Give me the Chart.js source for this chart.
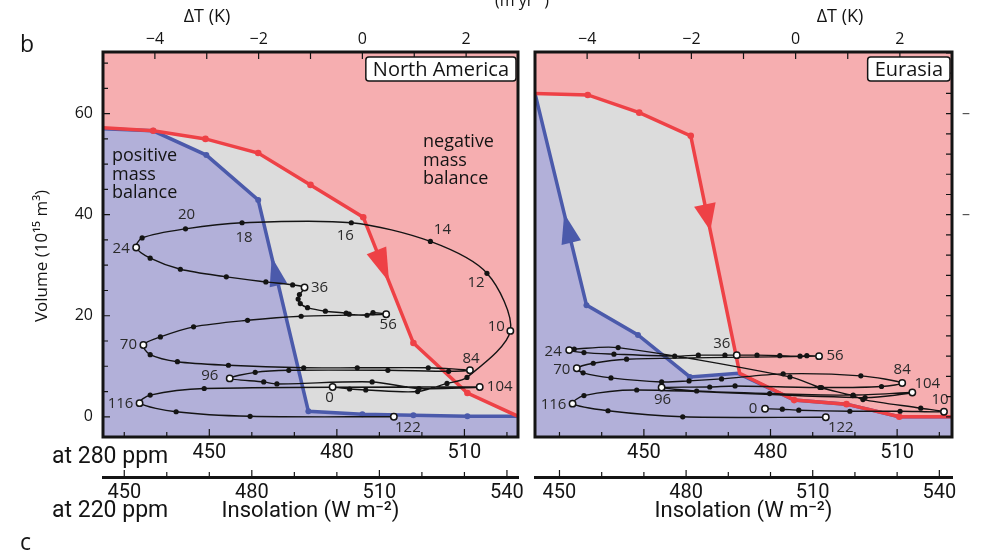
<!DOCTYPE html>
<html>
<head>
<meta charset="utf-8">
<script src="https://cdn.jsdelivr.net/npm/chart.js@4.4.1/dist/chart.umd.min.js"></script>
<style>
  html, body { margin: 0; padding: 0; background: #fff; }
  #wrap { position: relative; width: 982px; height: 554px; overflow: hidden; }
  #wrap canvas { position: absolute; left: 0; top: 0; }
</style>
</head>
<body>
<div id="wrap">
  <canvas id="na" width="982" height="554"></canvas>
  <canvas id="eu" width="982" height="554"></canvas>
</div>
<script>
// Ice volume (10^15 m3) vs summer insolation (W m-2 at 280 ppm)

// tick values
const ins280Ticks = [450, 480, 510];
const ins220Ticks = [450, 480, 510, 540];
const dTTicks = [-4, -2, 0, 2];
const volTicks = [0, 20, 40, 60];
const openAges = [0, 10, 24, 36, 56, 70, 84, 96, 104, 116, 122];

// North America: threshold curves
const naRedX = [425.0, 436.8, 449.1, 461.5, 473.8, 486.2, 498.0, 510.7, 522.6];
const naRedY = [57.2, 56.6, 55.0, 52.2, 45.9, 39.5, 14.6, 4.7, 0.1];
const naBlueX = [425.0, 436.8, 449.3, 461.5, 473.3, 486.0, 498.0, 510.7, 522.6];
const naBlueY = [57.0, 56.6, 51.8, 42.9, 1.1, 0.5, 0.3, 0.1, 0.1];

// North America: trajectory (ka labels where marked)
const naPathX = [479.0, 483.0, 486.8, 499.0, 505.9, 510.6, 520.8, 515.3, 502.0, 483.4,
  457.7, 444.4, 434.2, 432.8, 436.1, 443.2, 454.0, 463.3, 469.6, 472.4,
  471.2, 470.9, 471.4, 473.1, 477.3, 482.2, 482.9, 487.1, 488.5, 491.6,
  471.6, 459.0, 446.3, 438.5, 434.5, 436.1, 442.5, 454.5, 472.2, 484.8,
  501.5, 511.3, 506.3, 492.0, 468.7, 460.8, 454.8, 462.8, 465.9, 488.3,
  499.3, 513.6, 448.8, 436.1, 433.6, 442.2, 459.6, 493.4];
const naPathY = [5.9, 5.5, 5.3, 5.0, 6.6, 7.8, 17.0, 28.4, 34.7, 38.4,
  38.4, 37.2, 35.4, 33.5, 31.4, 29.2, 27.7, 26.7, 26.1, 25.6,
  24.2, 23.3, 22.4, 21.6, 20.9, 20.5, 20.3, 20.1, 20.6, 20.3,
  19.9, 19.1, 17.8, 15.8, 14.2, 12.3, 10.9, 10.2, 9.7, 9.7,
  9.7, 9.2, 9.0, 9.2, 9.2, 8.8, 7.6, 6.9, 6.5, 6.9,
  5.6, 5.9, 5.6, 4.3, 2.7, 1.0, 0.1, 0.0];
const naPathAge = [0, null, null, null, null, null, 10, 12, 14, 16,
  18, 20, null, 24, null, null, null, null, null, 36,
  null, null, null, null, null, null, null, null, null, 56,
  null, null, null, null, 70, null, null, null, null, null,
  null, 84, null, null, null, null, 96, null, null, null,
  null, 104, null, null, 116, null, null, 122];

// Eurasia: threshold curves
const euRedX = [424.2, 436.7, 448.9, 461.1, 472.7, 485.6, 498.0, 510.5, 523.0];
const euRedY = [64.0, 63.7, 60.2, 55.6, 8.6, 3.3, 2.5, 0.0, 0.0];
const euBlueX = [424.2, 436.4, 448.6, 460.9, 472.3, 485.6, 498.0, 510.5, 523.0];
const euBlueY = [64.0, 22.1, 16.2, 7.9, 8.6, 3.3, 2.5, 0.0, 0.0];

// Eurasia: trajectory
const euPathX = [478.7, 482.8, 486.7, 498.8, 510.7, 521.1, 515.6, 501.9, 499.5, 491.7,
  484.6, 443.9, 433.5, 432.3, 435.8, 442.9, 457.3, 462.9, 469.2, 472.0,
  476.8, 482.2, 487.0, 488.6, 491.5, 445.9, 438.0, 434.1, 435.6, 442.2,
  454.2, 460.7, 468.4, 483.0, 501.4, 511.2, 506.3, 492.1, 471.6, 465.6,
  454.2, 462.5, 479.8, 499.6, 513.6, 502.4, 448.3, 435.8, 433.1, 441.5,
  459.2, 493.1];
const euPathY = [1.6, 1.5, 1.3, 1.1, 1.1, 1.0, 1.7, 3.4, 4.2, 5.8,
  7.9, 13.7, 13.4, 13.2, 12.7, 12.4, 12.0, 12.2, 12.2, 12.2,
  12.2, 12.1, 12.0, 12.1, 12.0, 11.4, 10.6, 9.6, 8.7, 7.7,
  6.9, 7.1, 7.5, 8.5, 8.1, 6.7, 6.0, 5.8, 6.1, 5.9,
  5.8, 5.1, 4.6, 4.3, 4.8, 3.8, 5.3, 4.2, 2.6, 1.2,
  0.0, -0.1];
const euPathAge = [0, null, null, null, null, 10, null, null, null, null,
  null, null, null, 24, null, null, null, null, null, 36,
  null, null, null, null, 56, null, null, 70, null, null,
  null, null, null, null, null, 84, null, null, null, null,
  96, null, null, null, 104, null, null, null, 116, null,
  null, 122];

const INK = '#141414';
const PINK = '#f6aeb0';
const GREY = '#dcdcdc';
const LAV = '#b2b0d9';
const RED = '#ee4146';
const BLUE = '#4b5aab';
const SANS = '"Open Sans", Lato, sans-serif';
const NARROW = 'Roboto, "Open Sans", sans-serif';
const OFFSET220 = 20;

function pts(xs, ys) {
  return xs.map((v, i) => ({ x: v, y: ys[i] }));
}

function drawArrow(chart, ar) {
  const { ctx, scales } = chart;
  const ax = scales.x.getPixelForValue(ar.xs[ar.seg]);
  const ay = scales.y.getPixelForValue(ar.ys[ar.seg]);
  const bx = scales.x.getPixelForValue(ar.xs[ar.seg + 1]);
  const by = scales.y.getPixelForValue(ar.ys[ar.seg + 1]);
  const tx = ax + (bx - ax) * ar.f, ty = ay + (by - ay) * ar.f;
  let dx = bx - ax, dy = by - ay;
  const L = Math.hypot(dx, dy);
  dx /= L; dy /= L;
  if (ar.dir < 0) { dx = -dx; dy = -dy; }
  const cx = tx - dx * ar.len, cy = ty - dy * ar.len;
  ctx.save();
  ctx.fillStyle = ar.color;
  ctx.beginPath();
  ctx.moveTo(tx, ty);
  ctx.lineTo(cx - dy * ar.w, cy + dx * ar.w);
  ctx.lineTo(cx + dy * ar.w, cy - dx * ar.w);
  ctx.closePath();
  ctx.fill();
  ctx.restore();
}

function makeDeco(cfg) {
  return {
    id: 'deco',
    beforeDatasetsDraw(chart) {
      const { ctx, chartArea: a } = chart;
      ctx.save();
      ctx.fillStyle = PINK;
      ctx.fillRect(a.left, a.top, a.right - a.left, a.bottom - a.top);
      ctx.restore();
    },
    afterDatasetDraw(chart, args) {
      if (chart.data.datasets[args.index].role !== 'red') return;
      cfg.arrows.forEach(ar => drawArrow(chart, ar));
    },
    afterDatasetsDraw(chart) {
      const { ctx, chartArea: a, scales } = chart;
      // trajectory age labels
      const idx = chart.data.datasets.findIndex(d => d.role === 'path');
      const meta = chart.getDatasetMeta(idx);
      ctx.save();
      ctx.beginPath();
      ctx.rect(a.left, a.top, a.right - a.left, a.bottom - a.top);
      ctx.clip();
      ctx.font = '15px ' + SANS;
      ctx.fillStyle = '#2a2a2a';
      ctx.textAlign = 'center';
      ctx.textBaseline = 'middle';
      meta.data.forEach((p, i) => {
        const age = cfg.ages[i];
        if (age === null) return;
        const off = cfg.labelOffset[age] || [0, -12];
        ctx.fillText(String(age), p.x + off[0], p.y + off[1]);
      });
      ctx.restore();

      // region notes
      ctx.save();
      ctx.font = '18px ' + SANS;
      ctx.fillStyle = INK;
      ctx.textAlign = 'left';
      ctx.textBaseline = 'middle';
      cfg.notes.forEach(n => n.lines.forEach((t, k) => ctx.fillText(t, n.x, n.y + k * 18.5)));
      ctx.restore();

      // frame
      ctx.save();
      ctx.strokeStyle = INK;
      ctx.lineWidth = 3;
      ctx.strokeRect(a.left, a.top, a.right - a.left, a.bottom - a.top);

      // inside ticks
      ctx.lineWidth = 1.2;
      ctx.beginPath();
      for (let v = 430; v <= 520; v += 10) {
        const px = scales.x.getPixelForValue(v);
        const len = ins280Ticks.includes(v) ? 8 : 5;
        ctx.moveTo(px, a.bottom);
        ctx.lineTo(px, a.bottom - len);
      }
      for (let t = -4; t <= 2; t++) {
        const px = scales.xT.getPixelForValue(t);
        ctx.moveTo(px, a.top);
        ctx.lineTo(px, a.top + 7);
      }
      for (let v = 0; v <= 72; v += cfg.yTickStep) {
        const py = scales.y.getPixelForValue(v);
        const len = volTicks.includes(v) ? 7 : 5;
        if (cfg.yTickSide === 'left') { ctx.moveTo(a.left, py); ctx.lineTo(a.left + len, py); }
        else { ctx.moveTo(a.right, py); ctx.lineTo(a.right - 6, py); }
      }
      const s = scales.x220;
      for (let v = 450; v <= 540; v += 10) {
        const px = s.getPixelForValue(v);
        if (px < a.left || px > a.right) continue;
        ctx.moveTo(px, s.top);
        ctx.lineTo(px, s.top - (ins220Ticks.includes(v) ? 7 : 5));
      }
      ctx.stroke();
      ctx.restore();

      // region name box
      ctx.save();
      ctx.font = '20px ' + SANS;
      const w = ctx.measureText(cfg.name).width + 14;
      const bx = a.right - 2 - w, by = a.top + 5, bh = 24;
      ctx.fillStyle = '#fff';
      ctx.strokeStyle = INK;
      ctx.lineWidth = 1.5;
      ctx.beginPath();
      ctx.roundRect(bx, by, w, bh, 3);
      ctx.fill();
      ctx.stroke();
      ctx.fillStyle = INK;
      ctx.textAlign = 'center';
      ctx.textBaseline = 'middle';
      ctx.fillText(cfg.name, bx + w / 2, by + bh / 2 + 1);
      ctx.restore();
    },
    afterDraw(chart) {
      const { ctx } = chart;
      ctx.save();
      ctx.fillStyle = INK;
      cfg.texts.forEach(t => {
        ctx.save();
        ctx.font = t.font;
        ctx.textAlign = t.align || 'left';
        ctx.textBaseline = 'middle';
        ctx.translate(t.x, t.y);
        if (t.rot) ctx.rotate(t.rot);
        ctx.fillText(t.t, 0, 0);
        ctx.restore();
      });
      ctx.restore();
    }
  };
}

function makeChart(id, cfg) {
  const red = pts(cfg.redX, cfg.redY);
  const blue = pts(cfg.blueX, cfg.blueY);
  const path = pts(cfg.pathX, cfg.pathY);
  const open = cfg.ages.map(a => a !== null && openAges.includes(a));

  return new Chart(document.getElementById(id), {
    type: 'line',
    data: {
      datasets: [
        { role: 'grey', data: red, fill: 'start', backgroundColor: GREY, borderColor: 'transparent',
          borderWidth: 0, pointRadius: 0, order: 5 },
        { role: 'lav', data: blue, fill: 'start', backgroundColor: LAV, borderColor: 'transparent',
          borderWidth: 0, pointRadius: 0, order: 4 },
        { role: 'blue', data: blue, fill: false, borderColor: BLUE, borderWidth: 3.5,
          pointRadius: cfg.blueDots, pointBackgroundColor: BLUE, pointBorderWidth: 0, order: 3 },
        { role: 'red', data: red, fill: false, borderColor: RED, borderWidth: 3.5,
          pointRadius: cfg.redDots, pointBackgroundColor: RED, pointBorderWidth: 0, order: 2 },
        { role: 'path', data: path, fill: false, borderColor: INK, borderWidth: 1.4, tension: 0.3,
          pointRadius: open.map(o => (o ? 3.2 : 2.6)),
          pointBackgroundColor: open.map(o => (o ? '#fff' : INK)),
          pointBorderColor: INK,
          pointBorderWidth: open.map(o => (o ? 1.5 : 0)),
          order: 1 }
      ]
    },
    options: {
      responsive: false,
      animation: false,
      events: [],
      layout: { padding: cfg.padding },
      plugins: { legend: { display: false }, tooltip: { enabled: false } },
      scales: {
        x: {
          type: 'linear', position: 'bottom', weight: 0, min: cfg.xMin, max: cfg.xMax,
          afterBuildTicks: s => { s.ticks = ins280Ticks.map(v => ({ value: v })); },
          afterFit: s => { s.height = 40; },
          grid: { display: false, drawTicks: false },
          border: { display: false },
          ticks: { padding: 4, color: INK, font: { family: NARROW, size: 20 }, maxRotation: 0 }
        },
        x220: {
          type: 'linear', position: 'bottom', weight: 1,
          min: cfg.xMin + OFFSET220, max: cfg.xMax + OFFSET220,
          afterBuildTicks: s => { s.ticks = ins220Ticks.map(v => ({ value: v })); },
          afterFit: s => { s.height = 77; },
          grid: { display: false, drawTicks: false },
          border: { display: true, width: 3, color: INK },
          ticks: { padding: 4, color: INK, font: { family: NARROW, size: 20 }, maxRotation: 0 },
          title: { display: true, text: 'Insolation (W m\u207B\u00B2)', color: INK,
            font: { family: NARROW, size: 22 }, padding: { top: 0, bottom: 29 } }
        },
        xT: {
          type: 'linear', position: 'top', min: -5, max: 3,
          afterBuildTicks: s => { s.ticks = dTTicks.map(v => ({ value: v })); },
          afterFit: s => { s.height = 52; },
          grid: { display: false, drawTicks: false },
          border: { display: false },
          ticks: { padding: 3, color: INK, font: { family: SANS, size: 16 }, maxRotation: 0,
            callback: v => (v < 0 ? '\u2212' + (-v) : String(v)) }
        },
        y: {
          type: 'linear', position: cfg.yPos, min: -4, max: 72.2,
          afterBuildTicks: s => { s.ticks = cfg.yLabelTicks.map(v => ({ value: v })); },
          afterFit: s => { s.width = cfg.yWidth; },
          grid: { display: false, drawTicks: false },
          border: { display: false },
          ticks: { padding: 10, color: cfg.yLabelColor, font: { family: SANS, size: 16 },
            callback: cfg.yLabel }
        }
      }
    },
    plugins: [makeDeco(cfg)]
  });
}

makeChart('na', {
  xMin: 425.0, xMax: 522.6,
  padding: { left: 0, right: 464, top: 0, bottom: 0 },
  yPos: 'left', yWidth: 103, yLabelTicks: volTicks, yLabelColor: INK, yLabel: v => String(v),
  yTickStep: 5, yTickSide: 'left',
  redX: naRedX, redY: naRedY, blueX: naBlueX, blueY: naBlueY,
  redDots: [0, 3.3, 3.3, 3.3, 3.3, 3.3, 3.3, 3.3, 0],
  blueDots: [0, 3, 3, 3, 3, 3, 3, 3, 0],
  pathX: naPathX, pathY: naPathY, ages: naPathAge,
  labelOffset: { 0: [-3, 11], 10: [-14, -4], 12: [-11, 9], 14: [12, -12], 16: [-6, 13], 18: [2, 15],
    20: [1, -14], 24: [-15, 1], 36: [15, 0], 56: [2, 11], 70: [-15, 0], 84: [1, -12], 96: [-20, -3],
    104: [20, 0], 116: [-19, 1], 122: [14, 11] },
  arrows: [
    { xs: naBlueX, ys: naBlueY, seg: 3, f: 0.27, dir: -1, len: 29, w: 9, color: BLUE },
    { xs: naRedX, ys: naRedY, seg: 5, f: 0.515, dir: 1, len: 34, w: 10.5, color: RED }
  ],
  name: 'North America',
  notes: [
    { x: 112, y: 156, lines: ['positive', 'mass', 'balance'] },
    { x: 423, y: 142, lines: ['negative', 'mass', 'balance'] }
  ],
  texts: [
    { t: 'b', x: 20, y: 45, font: '23px ' + SANS },
    { t: 'c', x: 20, y: 543, font: '23px ' + SANS },
    { t: '\u0394T (K)', x: 207, y: 17, font: '18px ' + SANS, align: 'center' },
    { t: '(m yr\u207B\u00B9)', x: 522, y: 1, font: '16px ' + SANS, align: 'center' },
    { t: 'at 280 ppm', x: 52, y: 457, font: '23px ' + NARROW },
    { t: 'at 220 ppm', x: 52, y: 511, font: '23px ' + NARROW },
    { t: 'Volume (10\u00B9\u2075 m\u00B3)', x: 42, y: 256, font: '17px ' + SANS, align: 'center', rot: -Math.PI / 2 }
  ]
});

makeChart('eu', {
  xMin: 424.2, xMax: 523.0,
  padding: { left: 535, right: 0, top: 0, bottom: 0 },
  yPos: 'right', yWidth: 30, yLabelTicks: [40, 60], yLabelColor: '#555', yLabel: () => '\u2013',
  yTickStep: 4, yTickSide: 'right',
  redX: euRedX, redY: euRedY, blueX: euBlueX, blueY: euBlueY,
  redDots: [0, 3.3, 3.3, 3.3, 0, 3.3, 3.3, 3.3, 0],
  blueDots: [0, 3, 3, 3, 0, 0, 0, 0, 0],
  pathX: euPathX, pathY: euPathY, ages: euPathAge,
  labelOffset: { 0: [-12, 0], 10: [-4, -12], 24: [-16, 2], 36: [-15, -11], 56: [16, 0], 70: [-15, 1],
    84: [0, -13], 96: [1, 12], 104: [15, -9], 116: [-19, 1], 122: [15, 10] },
  arrows: [
    { xs: euBlueX, ys: euBlueY, seg: 0, f: 0.567, dir: -1, len: 30, w: 10, color: BLUE },
    { xs: euRedX, ys: euRedY, seg: 3, f: 0.40, dir: 1, len: 27, w: 11, color: RED }
  ],
  name: 'Eurasia',
  notes: [],
  texts: [
    { t: '\u0394T (K)', x: 840, y: 17, font: '18px ' + SANS, align: 'center' }
  ]
});
</script>
</body>
</html>
